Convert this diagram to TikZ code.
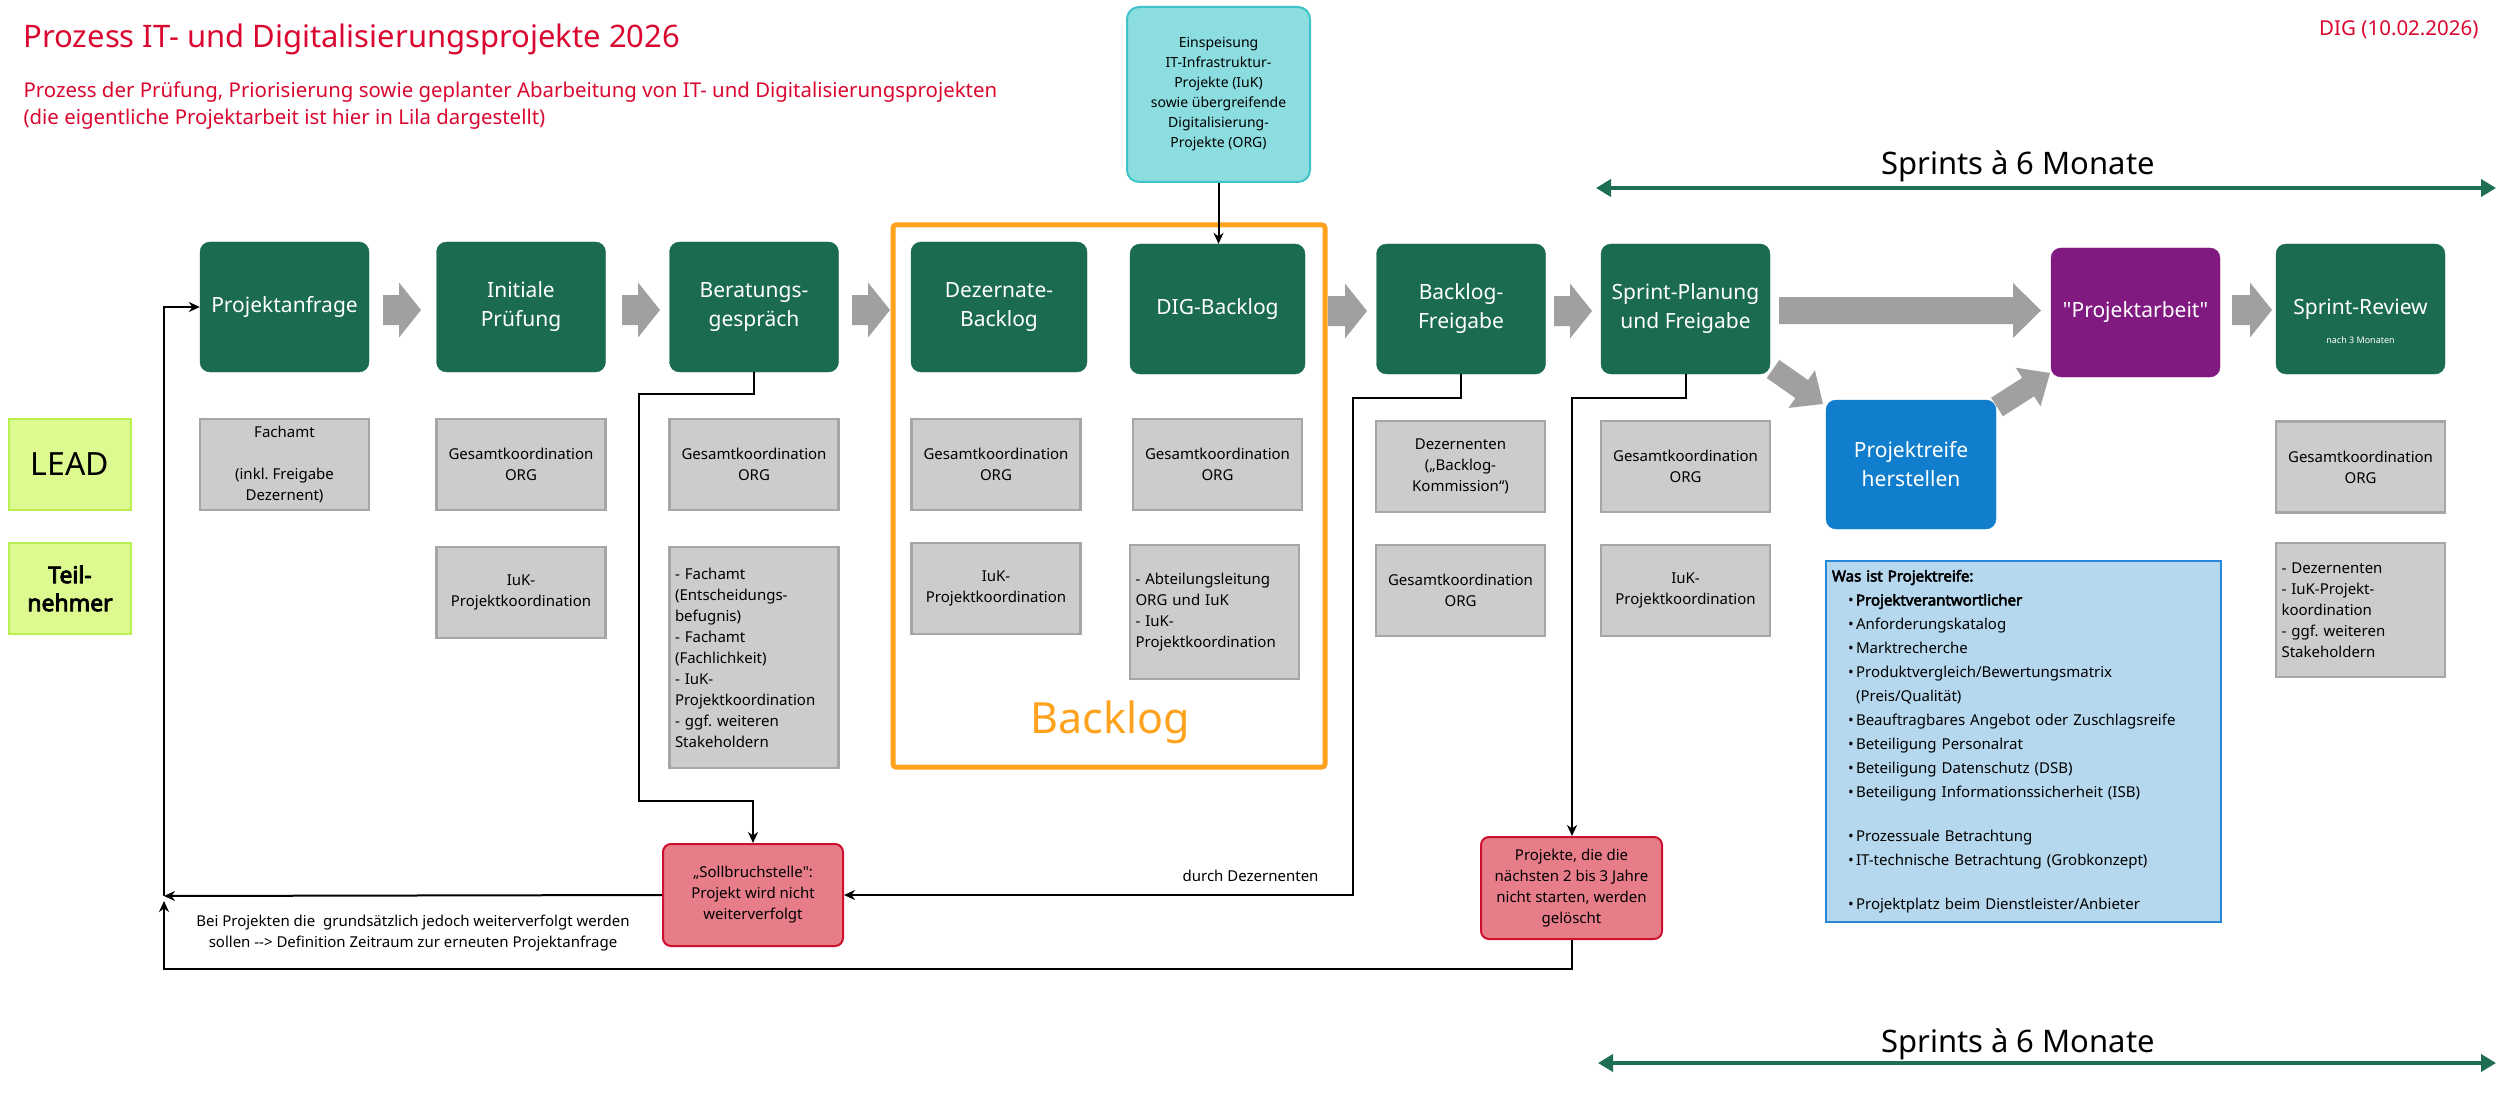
\documentclass[tikz,border=0pt]{standalone}
\usepackage{fontspec}
\setmainfont{Noto Sans}[AutoFakeBold=3.5]
\newfontfamily\qfont{Noto Sans}
\usetikzlibrary{arrows.meta,calc}
\definecolor{dgreen}{RGB}{27,107,82}
\definecolor{gbox}{RGB}{204,204,204}
\definecolor{gboxline}{RGB}{166,166,166}
\definecolor{garr}{RGB}{160,160,160}
\definecolor{purp}{RGB}{128,26,128}
\definecolor{blu}{RGB}{16,126,204}
\definecolor{tealA}{RGB}{139,221,224}
\definecolor{tealB}{RGB}{62,196,200}
\definecolor{limeA}{RGB}{221,250,145}
\definecolor{limeB}{RGB}{185,240,80}
\definecolor{pinkA}{RGB}{232,125,138}
\definecolor{redA}{RGB}{204,16,46}
\definecolor{ltblue}{RGB}{182,216,238}
\definecolor{ltblueB}{RGB}{40,135,215}
\definecolor{orng}{RGB}{255,162,30}
\definecolor{titlered}{RGB}{218,8,48}
\definecolor{sprintg}{RGB}{30,110,82}
\newcommand{\grayarrow}[5]{%
  \path (#1) coordinate (ga-t) (#2) coordinate (ga-p);
  \coordinate (ga-h) at ($(ga-p)!#5pt!(ga-t)$);
  \fill[garr] ($(ga-t)!#3pt!90:(ga-p)$) -- ($(ga-h)!#3pt!90:(ga-p)$) --
    ($(ga-h)!#4pt!90:(ga-p)$) -- (ga-p) -- ($(ga-h)!#4pt!-90:(ga-p)$) --
    ($(ga-h)!#3pt!-90:(ga-p)$) -- ($(ga-t)!#3pt!-90:(ga-p)$) -- cycle;}
\newcommand{\bul}{\hspace*{16pt}\makebox[8pt][l]{•}}
\newcommand{\ind}{\hspace*{24pt}}
\newcommand{\sq}{{\qfont"}}
\tikzset{
  greenbox/.style={fill=dgreen, draw=dgreen, rounded corners=10pt, minimum width=169pt,
    minimum height=130pt, text=white, align=center, font=\fontsize{21}{29}\selectfont, inner sep=2pt},
  graybox/.style={fill=gbox, draw=gboxline, line width=2.5pt, minimum width=169pt,
    minimum height=91pt, align=center, font=\fontsize{15}{21}\selectfont, inner sep=3pt},
  graylist/.style={fill=gbox, draw=gboxline, line width=2.5pt, text width=158pt, inner xsep=5.5pt,
    align=left, font=\fontsize{15}{21}\selectfont},
  rolebox/.style={fill=limeA, draw=limeB, line width=2.5pt, minimum width=122pt,
    minimum height=91pt, align=center},
  redbox/.style={fill=pinkA, draw=redA, line width=2pt, rounded corners=8pt, minimum width=180pt,
    minimum height=102pt, align=center, font=\fontsize{15}{21}\selectfont},
  conn/.style={draw=black, line width=2pt, -{Stealth[length=11pt,width=10pt]}},
  sprintarrow/.style={draw=sprintg, line width=4.5pt, {Triangle[length=15pt,width=17pt]}-{Triangle[length=15pt,width=17pt]}},
  redtext/.style={text=titlered, anchor=west},
}
\begin{document}
\frenchspacing
\begin{tikzpicture}[x=1pt,y=-1pt]
\fill[white] (0,0) rectangle (2499,1099);
\useasboundingbox (0,0) rectangle (2499,1099);

% titles
\node[redtext, font=\fontsize{31}{36}\selectfont] (title) at (20,39) {Prozess IT- und Digitalisierungsprojekte 2026};
\node[redtext, font=\fontsize{20.4}{27}\selectfont] (sub1) at (20,92) {Prozess der Prüfung, Priorisierung sowie geplanter Abarbeitung von IT- und Digitalisierungsprojekten};
\node[redtext, font=\fontsize{20.4}{27}\selectfont] (sub2) at (20,119) {(die eigentliche Projektarbeit ist hier in Lila dargestellt)};
\node[text=titlered, anchor=east, font=\fontsize{20.5}{26}\selectfont] (date) at (2482,30) {DIG (10.02.2026)};

% sprint arrows
\coordinate (sTL) at (1596,188); \coordinate (sTR) at (2496,188);
\coordinate (sBL) at (1598,1063); \coordinate (sBR) at (2496,1063);
\draw[sprintarrow] (sTL) -- (sTR);
\draw[sprintarrow] (sBL) -- (sBR);
\node[font=\fontsize{31}{36}\selectfont] (sprintT) at (2018,166) {Sprints à 6 Monate};
\node[font=\fontsize{31}{36}\selectfont] (sprintB) at (2018,1044) {Sprints à 6 Monate};

% backlog frame
\node[draw=orng, line width=5pt, rounded corners=3pt, minimum width=432pt, minimum height=542pt] (frame) at (1109,496) {};
\node[text=orng, font=\fontsize{43}{50}\selectfont] (backloglbl) at (1110,722) {Backlog};

% role boxes
\node[rolebox, font=\fontsize{32}{36}\selectfont] (lead) at (70,464.5) {LEAD};
\node[rolebox, font=\fontsize{23}{28}\selectfont\bfseries] (teil) at (70,588.5) {Teil-\\nehmer};

% green process boxes
\node[greenbox] (anfrage) at (284.5,307) {Projektanfrage};
\node[greenbox] (pruef) at (521,307) {Initiale\\Prüfung};
\node[greenbox] (berat) at (754,307) {Beratungs-\\gespräch};
\node[greenbox, minimum width=176pt] (dezbl) at (999,307) {Dezernate-\\Backlog};
\node[greenbox, minimum width=175pt] (digbl) at (1217.5,309) {DIG-Backlog};
\node[greenbox] (blfrei) at (1461,309) {Backlog-\\Freigabe};
\node[greenbox] (sprintpl) at (1685.5,309) {Sprint-Planung\\und Freigabe};
\node[greenbox, fill=purp, draw=purp, minimum height=129pt] (projarb) at (2135.5,312.5) {\sq Projektarbeit\sq};
\node[greenbox] (review) at (2360.5,309) {Sprint-Review};
\node[text=white, font=\fontsize{9}{11}\selectfont] (nach3) at (2360.5,340) {nach 3 Monaten};
\node[greenbox, fill=blu, draw=blu, minimum width=170pt, minimum height=129pt] (reife) at (1911,464.5) {Projektreife\\herstellen};

% feed-in box
\node[fill=tealA, draw=tealB, line width=2pt, rounded corners=12pt, minimum width=183pt, minimum height=175pt,
  align=center, font=\fontsize{14}{20}\selectfont] (einsp) at (1218.5,94.5)
  {Einspeisung\\IT-Infrastruktur-\\Projekte (IuK)\\sowie übergreifende\\Digitalisierung-\\Projekte (ORG)};

% gray boxes row 1
\node[graybox] (anfrageL) at (284.5,464.5) {Fachamt\\[21pt](inkl. Freigabe\\Dezernent)};
\node[graybox] (pruefL) at (521,464.5) {Gesamtkoordination\\ORG};
\node[graybox] (beratL) at (754,464.5) {Gesamtkoordination\\ORG};
\node[graybox] (dezblL) at (996,464.5) {Gesamtkoordination\\ORG};
\node[graybox] (digblL) at (1217.5,464.5) {Gesamtkoordination\\ORG};
\node[graybox] (blfreiL) at (1460.5,466.5) {Dezernenten\\(„Backlog-\\Kommission“)};
\node[graybox] (sprintplL) at (1685.5,466.5) {Gesamtkoordination\\ORG};
\node[graybox] (reviewL) at (2360.5,467) {Gesamtkoordination\\ORG};

% gray boxes row 2
\node[graybox] (pruefT) at (521,592.5) {IuK-\\Projektkoordination};
\node[graylist, minimum height=221pt] (beratT) at (754,657.5) {- Fachamt\\(Entscheidungs-\\befugnis)\\- Fachamt\\(Fachlichkeit)\\- IuK-\\Projektkoordination\\- ggf. weiteren\\Stakeholdern};
\node[graybox] (dezblT) at (996,588.5) {IuK-\\Projektkoordination};
\node[graylist, minimum height=134pt] (digblT) at (1214.5,612) {- Abteilungsleitung\\ORG und IuK\\- IuK-\\Projektkoordination};
\node[graybox] (blfreiT) at (1460.5,590.5) {Gesamtkoordination\\ORG};
\node[graybox] (sprintplT) at (1685.5,590.5) {IuK-\\Projektkoordination};
\node[graylist, minimum height=134pt] (reviewT) at (2360.5,610) {- Dezernenten\\- IuK-Projekt-\\koordination\\- ggf. weiteren\\Stakeholdern};

% Projektreife info box
\node[fill=ltblue, draw=ltblueB, line width=2.5pt, minimum width=395pt, minimum height=361pt,
  text width=383pt, inner xsep=6pt, align=left, font=\fontsize{15}{24}\selectfont] (was) at (2023.5,741.5)
  {\textbf{Was ist Projektreife:}\\
   \bul\textbf{Projektverantwortlicher}\\
   \bul Anforderungskatalog\\
   \bul Marktrecherche\\
   \bul Produktvergleich/Bewertungsmatrix\\
   \ind (Preis/Qualität)\\
   \bul Beauftragbares Angebot oder Zuschlagsreife\\
   \bul Beteiligung Personalrat\\
   \bul Beteiligung Datenschutz (DSB)\\
   \bul Beteiligung Informationssicherheit (ISB)\\[20pt]
   \bul Prozessuale Betrachtung\\
   \bul IT-technische Betrachtung (Grobkonzept)\\[20pt]
   \bul Projektplatz beim Dienstleister/Anbieter};

% red boxes
\node[redbox] (soll) at (753,895) {„Sollbruchstelle\sq:\\Projekt wird nicht\\weiterverfolgt};
\node[redbox, minimum width=181pt] (proj2) at (1571.5,888) {Projekte, die die\\nächsten 2 bis 3 Jahre\\nicht starten, werden\\gelöscht};

% gray block arrows
\grayarrow{383,310}{421,310}{15}{27.5}{22}
\grayarrow{622,310}{660,310}{15}{27.5}{22}
\grayarrow{852,310}{890,310}{15}{27.5}{22}
\grayarrow{1328,311}{1367,311}{15}{27.5}{22}
\grayarrow{1554,311}{1592,311}{15}{27.5}{22}
\grayarrow{1779,310.5}{2041,310.5}{13.5}{27.5}{28}
\grayarrow{2232,310}{2272,310}{15}{27.5}{22}
\grayarrow{1773,369}{1823,404}{11}{23}{26}
\grayarrow{1997,407}{2050,373}{11}{23}{26}

% connectors
\coordinate (bA) at (639,394);
\coordinate (bB) at (639,801);
\coordinate (fA) at (1353,398);
\coordinate (pA) at (1572,398);
\coordinate (jL) at (164,896);
\coordinate (jB) at (164,969);
\draw[conn] (einsp.south) -- (einsp.south |- digbl.north);
\draw[conn] (berat.south) |- (bA) -- (bB) -| (soll.north);
\draw[conn] (blfrei.south) |- (fA) |- (soll.east);
\draw[conn] (sprintpl.south) |- (pA) -- (pA |- proj2.north);
\draw[conn] (soll.west) -- (jL);
\draw[conn] (proj2.south) |- (jB) -- ($(jL)+(0,5)$);
\draw[conn] (jL) |- (anfrage.west);

% labels
\node[anchor=east, font=\fontsize{15}{21}\selectfont] (lblDez) at (1322,876) {durch Dezernenten};
\node[align=center, font=\fontsize{15}{21}\selectfont] (lblBei) at (413,933.5)
  {Bei Projekten die\ \ grundsätzlich jedoch weiterverfolgt werden\\sollen -{}-{}> Definition Zeitraum zur erneuten Projektanfrage};
\end{tikzpicture}
\end{document}
